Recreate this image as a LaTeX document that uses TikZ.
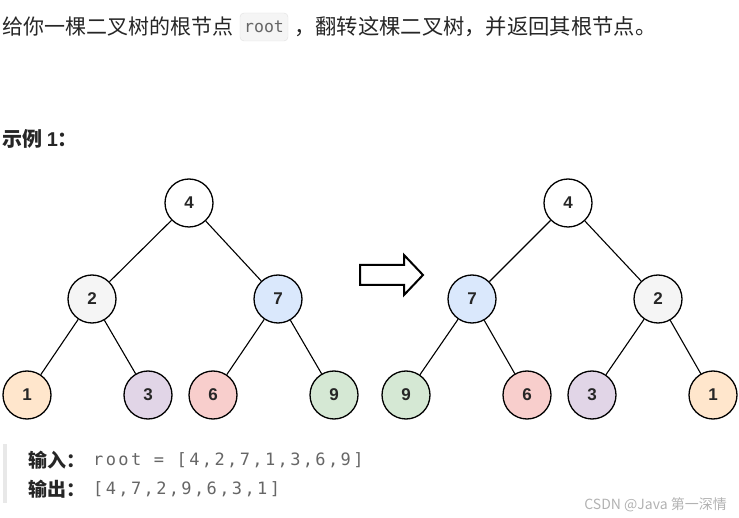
\documentclass[tikz,border=0pt]{standalone}
\usepackage{fontspec}
\newfontfamily\cjk{Noto Sans CJK SC}
\newfontfamily\arial{Liberation Sans}
\newfontfamily\mono{DejaVu Sans Mono}
\newfontfamily\monosp{DejaVu Sans Mono}[LetterSpace=14]
\definecolor{txt}{HTML}{262626}
\definecolor{codegray}{HTML}{666666}
\definecolor{c2}{HTML}{F5F5F5}
\definecolor{c7}{HTML}{DAE8FC}
\definecolor{c1}{HTML}{FFE6CC}
\definecolor{c3}{HTML}{E1D5E7}
\definecolor{c6}{HTML}{F8CECC}
\definecolor{c9}{HTML}{D5E8D4}
\tikzset{
  tn/.style={circle, draw=black, line width=1.3pt, minimum size=48pt, inner sep=0pt, font=\arial\bfseries\fontsize{17}{17}\selectfont, text=txt},
  edge/.style={line width=1.1pt, black},
}
\begin{document}
\begin{tikzpicture}[x=1pt,y=-1pt]
\useasboundingbox (0,0) rectangle (739,518);
% top sentence
\node[anchor=west, inner sep=0pt, text=txt, font=\cjk\fontsize{21}{21}\selectfont] (t1) at (2,27) {给你一棵二叉树的根节点};
\node[draw=black!12, fill=black!4, rounded corners=4pt, inner sep=0pt, minimum width=48pt, minimum height=28pt, font=\mono\fontsize{16.5}{16.5}\selectfont, text=codegray] (rt) at (264,27) {root};
\node[anchor=west, inner sep=0pt, text=txt, font=\cjk\fontsize{21.3}{21.3}\selectfont] (t2) at (294,27) {，翻转这棵二叉树，并返回其根节点。};
% example title
\node[anchor=west, inner sep=0pt, text=txt, font=\cjk\bfseries\fontsize{20}{20}\selectfont] (ex) at (2,139) {示例 {\arial\bfseries 1}：};
% left tree
\node[tn] (a4) at (189,203) {4};
\node[tn, fill=c2] (a2) at (92,299) {2};
\node[tn, fill=c7] (a7) at (278,299) {7};
\node[tn, fill=c1] (a1) at (27,395) {1};
\node[tn, fill=c3] (a3) at (148,395) {3};
\node[tn, fill=c6] (a6) at (213,395) {6};
\node[tn, fill=c9] (a9) at (334,395) {9};
\draw[edge] (a4) -- (a2); \draw[edge] (a4) -- (a7);
\draw[edge] (a2) -- (a1); \draw[edge] (a2) -- (a3);
\draw[edge] (a7) -- (a6); \draw[edge] (a7) -- (a9);
% right tree
\node[tn] (b4) at (568,203) {4};
\node[tn, fill=c7] (b7) at (472,299) {7};
\node[tn, fill=c2] (b2) at (658,299) {2};
\node[tn, fill=c9] (b9) at (406,395) {9};
\node[tn, fill=c6] (b6) at (527,395) {6};
\node[tn, fill=c3] (b3) at (592,395) {3};
\node[tn, fill=c1] (b1) at (713,395) {1};
\draw[edge] (b4) -- (b7); \draw[edge] (b4) -- (b2);
\draw[edge] (b7) -- (b9); \draw[edge] (b7) -- (b6);
\draw[edge] (b2) -- (b3); \draw[edge] (b2) -- (b1);
% block arrow
\draw[line width=2pt, line join=miter, fill=white] (360,265) -- (404,265) -- (404,255) -- (423,275) -- (404,295) -- (404,285) -- (360,285) -- cycle;
% input/output block
\fill[black!9] (3,444) rectangle (7,503);
\node[anchor=west, inner sep=0pt, text=txt, font=\cjk\bfseries\fontsize{19}{19}\selectfont] (in) at (28,460) {输入：};
\node[anchor=west, inner sep=0pt, text=codegray, font=\monosp\fontsize{17}{17}\selectfont] (inv) at (93,460) {root = [4,2,7,1,3,6,9]};
\node[anchor=west, inner sep=0pt, text=txt, font=\cjk\bfseries\fontsize{19}{19}\selectfont] (out) at (28,489) {输出：};
\node[anchor=west, inner sep=0pt, text=codegray, font=\monosp\fontsize{17}{17}\selectfont] (outv) at (93,489) {[4,7,2,9,6,3,1]};
% watermark
\node[anchor=east, inner sep=0pt, text=black!30, font=\cjk\fontsize{14}{14}\selectfont] (wm) at (727,505) {CSDN @Java 第一深情};
\end{tikzpicture}
\end{document}
